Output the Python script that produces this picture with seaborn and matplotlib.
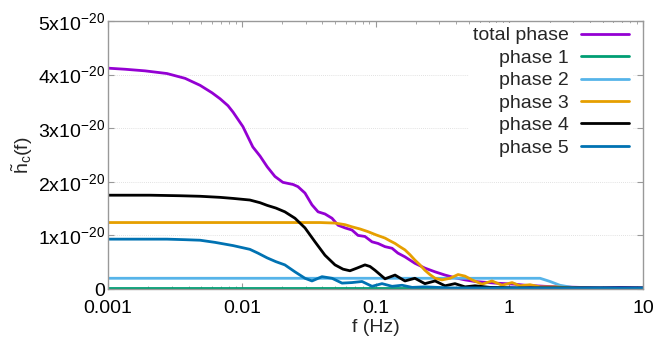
import numpy as np
import pandas as pd
import matplotlib
matplotlib.use("Agg")
import matplotlib.pyplot as plt
import seaborn as sns
from matplotlib.ticker import FixedLocator, FixedFormatter, LogLocator, NullFormatter

# ---- data (values in units of 1e-20) ----
f_total = [0.001, 0.00134, 0.00189, 0.00276, 0.00377, 0.00488, 0.00600, 0.00688, 0.00789, 0.00861,
           0.0102, 0.0121, 0.0137, 0.0155,
           0.0177, 0.0203, 0.0242, 0.0263, 0.0297, 0.0335, 0.0372, 0.0419, 0.0473, 0.0525,
           0.0592, 0.0667, 0.0740, 0.0834, 0.0942, 0.1044, 0.1178, 0.133, 0.147, 0.166,
           0.197, 0.234, 0.279, 0.331, 0.393, 0.467, 0.555, 0.782, 1.10, 1.31,
           1.85, 2.39, 3.38, 4.77, 6.73, 10]
h_total = [4.12, 4.10, 4.07, 4.02, 3.93, 3.80, 3.66, 3.55, 3.42, 3.30,
           3.03, 2.65, 2.48, 2.28,
           2.10, 1.99, 1.95, 1.91, 1.79, 1.57, 1.44, 1.40, 1.32, 1.19,
           1.14, 1.10, 1.00, 0.98, 0.88, 0.85, 0.79, 0.76, 0.67, 0.60,
           0.48, 0.39, 0.32, 0.26, 0.21, 0.17, 0.14, 0.11, 0.09, 0.07,
           0.05, 0.04, 0.03, 0.02, 0.03, 0.02]

f_p1 = [0.001, 10]
h_p1 = [0.01, 0.01]

f_p2 = [0.001, 1.70, 2.02, 2.39, 3.10, 10]
h_p2 = [0.20, 0.20, 0.14, 0.07, 0.02, 0.01]

f_p3 = [0.001, 0.0273, 0.0385, 0.0498, 0.0592, 0.0667, 0.0766, 0.0879, 0.1009, 0.1178,
        0.128, 0.140, 0.152, 0.166, 0.181, 0.197, 0.215, 0.234, 0.255,
        0.279, 0.314, 0.361, 0.414, 0.467, 0.527, 0.626, 0.743, 0.883, 1.05,
        1.20, 1.43, 1.70, 2.20, 2.84, 4.77, 10]
h_p3 = [1.24, 1.24, 1.24, 1.23, 1.20, 1.16, 1.12, 1.07, 1.01, 0.95,
        0.90, 0.85, 0.79, 0.73, 0.64, 0.54, 0.45, 0.35, 0.27,
        0.20, 0.17, 0.20, 0.27, 0.24, 0.17, 0.09, 0.15, 0.07, 0.12,
        0.06, 0.08, 0.04, 0.04, 0.02, 0.01, 0.01]

f_p4 = [0.001, 0.00206, 0.00345, 0.00488, 0.00688, 0.00861, 0.0115, 0.0137, 0.0155, 0.0180,
        0.0210, 0.0250, 0.0297, 0.0353, 0.0419,
        0.0498, 0.0572, 0.0644, 0.0727, 0.0834, 0.0910, 0.0991, 0.1178, 0.140, 0.166,
        0.197, 0.234, 0.279, 0.331, 0.393, 0.467, 0.555, 0.718, 1.20, 10]
h_p4 = [1.75, 1.75, 1.74, 1.73, 1.71, 1.69, 1.66, 1.61, 1.56, 1.51,
        1.44, 1.32, 1.14, 0.88, 0.63,
        0.45, 0.37, 0.34, 0.39, 0.45, 0.42, 0.35, 0.19, 0.26, 0.15,
        0.20, 0.10, 0.15, 0.06, 0.10, 0.04, 0.06, 0.03, 0.02, 0.02]

f_p5 = [0.001, 0.00276, 0.00377, 0.00488, 0.00631, 0.00861, 0.0115, 0.0132, 0.0155, 0.0180,
        0.0210, 0.0250, 0.0297, 0.0335,
        0.0398, 0.0473, 0.0562, 0.0667, 0.0793, 0.0942, 0.1119, 0.133, 0.158, 0.188,
        0.234, 0.361, 10]
h_p5 = [0.93, 0.93, 0.92, 0.91, 0.87, 0.81, 0.74, 0.67, 0.58, 0.51,
        0.45, 0.32, 0.20, 0.15,
        0.23, 0.20, 0.11, 0.12, 0.14, 0.05, 0.10, 0.05, 0.07, 0.03,
        0.04, 0.02, 0.02]

series_names = ["total phase", "phase 1", "phase 2", "phase 3", "phase 4", "phase 5"]
series_f = [f_total, f_p1, f_p2, f_p3, f_p4, f_p5]
series_h = [h_total, h_p1, h_p2, h_p3, h_p4, h_p5]
colors = ["#9400D3", "#009E73", "#56B4E9", "#E69F00", "#000000", "#0072B2"]

y_ticks = [0, 1, 2, 3, 4, 5]
y_ticklabels = ["0", "1x10$^{-20}$", "2x10$^{-20}$", "3x10$^{-20}$", "4x10$^{-20}$", "5x10$^{-20}$"]
x_ticks = [0.001, 0.01, 0.1, 1, 10]
x_ticklabels = ["0.001", "0.01", "0.1", "1", "10"]

SCALE = 1e-20
frames = []
for name, f, h in zip(series_names, series_f, series_h):
    frames.append(pd.DataFrame({"f": f, "h": np.array(h) * SCALE, "series": name}))
df = pd.concat(frames, ignore_index=True)

# ---- style ----
sns.set_theme(style="white")
plt.rcParams["font.family"] = ["Liberation Sans", "DejaVu Sans"]
plt.rcParams["mathtext.fontset"] = "custom"
plt.rcParams["mathtext.rm"] = "Liberation Sans"
plt.rcParams["mathtext.it"] = "Liberation Sans:italic"
plt.rcParams["mathtext.bf"] = "Liberation Sans:bold"

FS = 14
fig = plt.figure(figsize=(6.57, 3.37), dpi=100)
ax = fig.add_axes([108 / 657, 1 - 289 / 337, (643 - 108) / 657, (289 - 21) / 337])

sns.lineplot(data=df, x="f", y="h", hue="series", hue_order=series_names,
             palette=dict(zip(series_names, colors)), estimator=None, sort=False,
             linewidth=2.0, ax=ax, legend=True)

ax.set_xscale("log")
ax.set_xlim(0.001, 10)
ax.set_ylim(0, 5 * SCALE)

ax.xaxis.set_major_locator(FixedLocator(x_ticks))
ax.xaxis.set_major_formatter(FixedFormatter(x_ticklabels))
ax.xaxis.set_minor_locator(LogLocator(base=10, subs=np.arange(2, 10), numticks=20))
ax.xaxis.set_minor_formatter(NullFormatter())
ax.yaxis.set_major_locator(FixedLocator([v * SCALE for v in y_ticks]))
ax.yaxis.set_major_formatter(FixedFormatter(y_ticklabels))

ax.tick_params(axis="both", which="major", direction="in", length=4, width=0.8,
               color="#999999", labelsize=FS, labelcolor="black", top=True, right=True,
               bottom=True, left=True)
ax.tick_params(axis="x", which="major", pad=8)
ax.tick_params(axis="y", which="major", pad=2)
ax.tick_params(axis="x", which="minor", direction="in", length=2, width=0.6,
               color="#999999", top=True, bottom=True)

for s in ax.spines.values():
    s.set_color("#999999")
    s.set_linewidth(1.0)

ax.grid(False)
for v in y_ticks[1:-1]:
    ax.axhline(v * SCALE, color="#d8d8d8", lw=0.6, ls=(0, (1, 1.5)), zorder=0)

ax.set_xlabel("f (Hz)", fontsize=FS, labelpad=1)
ax.set_ylabel(r"$\mathrm{\tilde{h}_c(f)}$", fontsize=FS, labelpad=2)

handles, labels = ax.get_legend_handles_labels()
leg = ax.legend(handles, labels, loc="upper right", bbox_to_anchor=(0.982, 0.993),
                markerfirst=False, frameon=True, fontsize=FS, handlelength=2.5,
                handletextpad=0.6, labelspacing=0.25, borderaxespad=0.0, borderpad=0.2)
leg.get_frame().set_facecolor("white")
leg.get_frame().set_edgecolor("none")
leg.get_frame().set_alpha(1.0)
for line in leg.get_lines():
    line.set_linewidth(2.0)

fig.savefig("out.png", dpi=100)
